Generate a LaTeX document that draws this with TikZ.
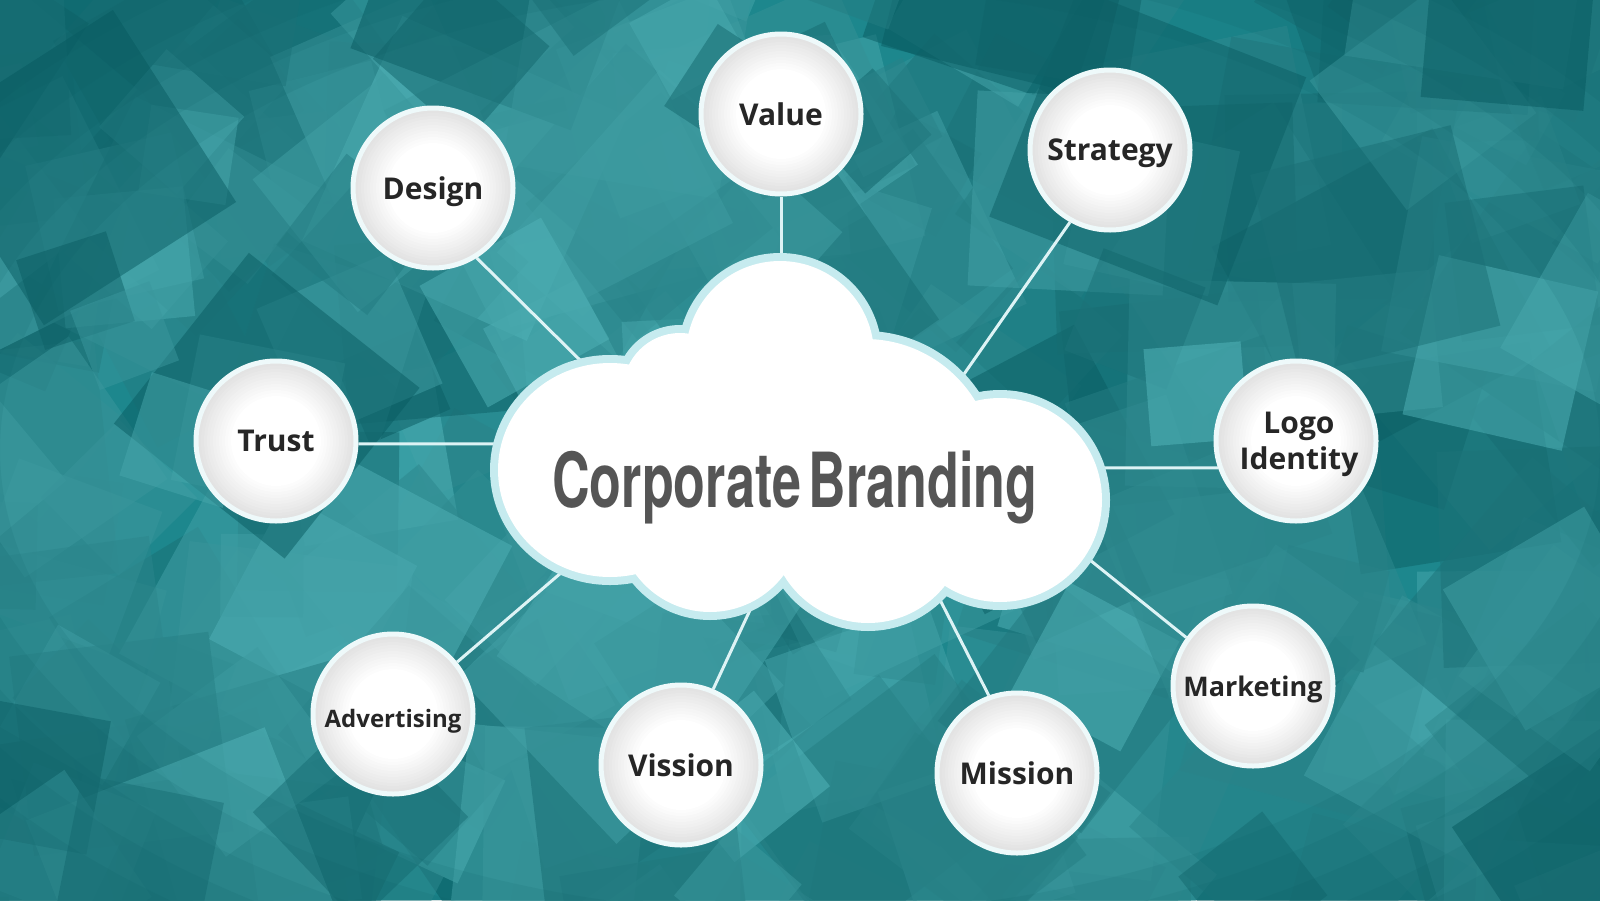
\documentclass[tikz,border=0pt]{standalone}
\usepackage{fontspec}
\setmainfont{Open Sans}
\newfontfamily\titlefont{TeX Gyre Heros}
\usetikzlibrary{calc}
\definecolor{bgteal}{HTML}{1D878D}
\definecolor{tealL}{HTML}{55B8BD}
\definecolor{tealD}{HTML}{085A60}
\definecolor{cloudedge}{HTML}{C6EBEF}
\definecolor{ringcol}{HTML}{EEF9FA}
\definecolor{linkcol}{HTML}{DDF3F5}
\definecolor{titlecol}{HTML}{555555}
\definecolor{labelcol}{HTML}{262626}
\pgfdeclarelayer{bglayer}
\pgfdeclarelayer{linklayer}
\pgfdeclarelayer{cloudlayer}
\pgfsetlayers{bglayer,linklayer,cloudlayer,main}
\tikzset{
  topic/.style={circle, minimum size=80pt, inner sep=0pt, fill=white, draw=ringcol, line width=2.5pt,
    path picture={
      \foreach \k in {0,...,13}{
        \pgfmathsetmacro{\rr}{42-1.5*\k}
        \pgfmathsetmacro{\cc}{13-\k}
        \fill[black!\cc] (path picture bounding box.center) circle[radius=\rr pt];
      }
    },
    font=\bfseries\fontsize{15pt}{18pt}\selectfont, text=labelcol, align=center, text depth=0pt},
  link/.style={draw=linkcol, line width=1.5pt},
  titletext/.style={font=\titlefont\bfseries\fontsize{38pt}{40pt}\selectfont, text=titlecol, inner sep=0pt}
}
\begin{document}
\begin{tikzpicture}[x=0.5pt,y=-0.5pt]
\useasboundingbox (0,0) rectangle (1600,900);
% ---------- background ----------
\begin{pgfonlayer}{bglayer}
\begin{scope}
\clip (0,0) rectangle (1600,900);
\fill[bgteal] (0,0) rectangle (1600,900);
\pgfmathsetseed{11}
\foreach \i in {1,...,300}{
  \pgfmathsetmacro{\px}{rnd*1700-50}
  \pgfmathsetmacro{\py}{rnd*1000-50}
  \pgfmathsetmacro{\ps}{40+rnd*90}
  \pgfmathsetmacro{\pa}{rnd*90}
  \pgfmathtruncatemacro{\pc}{rnd*100}
  \fill[tealL!\pc!tealD, fill opacity=0.5, rotate around={\pa:(\px,\py)}] (\px-\ps,\py-\ps) rectangle (\px+\ps,\py+\ps);
}
\foreach \r in {1000,950,900,850,800}{
  \fill[tealD, fill opacity=0.1, even odd rule] (-10,-10) rectangle (1610,910) (800,450) ellipse [x radius=\r, y radius=0.58*\r];
}
\end{scope}
\end{pgfonlayer}
% ---------- topics ----------
\node[topic] (value) at (781,114) {Value};
\node[topic] (design) at (433,188) {Design};
\node[topic] (strategy) at (1110,150) {Strategy};
\node[topic] (trust) at (276,441) {Trust};
\node[topic] (logo) at (1296,441) {\hspace{3pt}Logo\\\hspace{3pt}Identity};
\node[topic, font=\bfseries\fontsize{13.5pt}{16pt}\selectfont] (marketing) at (1253,686) {Marketing};
\node[topic] (mission) at (1017,773) {Mission};
\node[topic] (vission) at (681,765) {Vission};
\node[topic, font=\bfseries\fontsize{12pt}{14pt}\selectfont] (advertising) at (393,714) {\raisebox{-4pt}{Advertising}};
\node[titletext, anchor=base] (title) at (795,507) {\scalebox{0.685}[1]{Corporate\hspace{0.15em}Branding}};
% ---------- cloud end points ----------
\coordinate (cValue) at (781,290);
\coordinate (cDesign) at (589,369);
\coordinate (cStrategy) at (955,387);
\coordinate (cTrust) at (505,444);
\coordinate (cLogo) at (1095,468);
\coordinate (cMarketing) at (1080,552);
\coordinate (cMission) at (935,590);
\coordinate (cVission) at (751,608);
\coordinate (cAdvertising) at (569,566);
% ---------- links ----------
\begin{pgfonlayer}{linklayer}
\draw[link] (value) -- (cValue);
\draw[link] (design.302) -- (cDesign);
\draw[link] (strategy.241.6) -- (cStrategy);
\draw[link] (trust.358) -- (cTrust);
\draw[link] (logo.199) -- (cLogo);
\draw[link] (marketing.144) -- (cMarketing);
\draw[link] (mission.110.9) -- (cMission);
\draw[link] (vission.67.4) -- (cVission);
\draw[link] (advertising.39.2) -- (cAdvertising);
\end{pgfonlayer}
% ---------- cloud ----------
\begin{pgfonlayer}{cloudlayer}
\fill[cloudedge]
  (610,470) ellipse [x radius=120, y radius=115]
  (680,390) circle [radius=65]
  (780,355) circle [radius=102]
  (865,468) circle [radius=137]
  (1000,500) ellipse [x radius=110, y radius=110]
  (868,525) circle [radius=106]
  (710,520) circle [radius=100];
\fill[white]
  (610,470) ellipse [x radius=112, y radius=107]
  (680,390) circle [radius=57]
  (780,355) circle [radius=94]
  (865,468) circle [radius=129]
  (1000,500) ellipse [x radius=102, y radius=102]
  (868,525) circle [radius=98]
  (710,520) circle [radius=92];
\fill[white] (610,470) -- (680,390) -- (780,355) -- (865,468) -- (1000,500) -- (868,525) -- (710,520) -- cycle;
\end{pgfonlayer}
\end{tikzpicture}
\end{document}
